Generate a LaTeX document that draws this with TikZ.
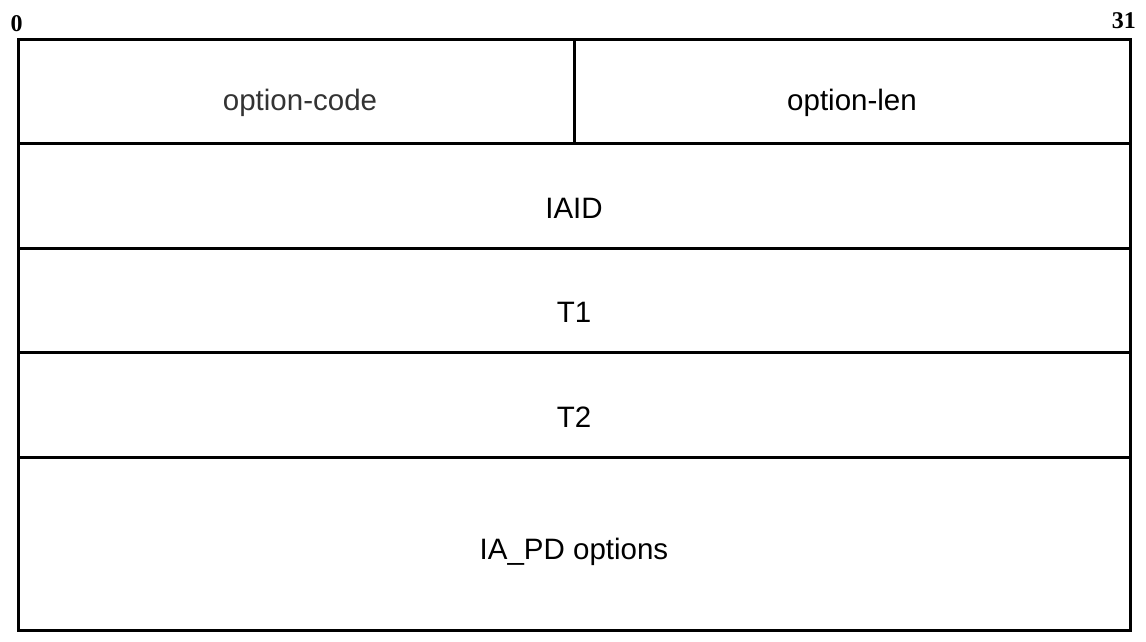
\documentclass[tikz,border=0pt]{standalone}
\usepackage{fontspec}
\setmainfont{Liberation Sans}
\newfontfamily\numfont{Liberation Serif}
\begin{document}
\begin{tikzpicture}[x=1pt,y=-1pt,
  fieldline/.style={line width=3pt},
  fieldtext/.style={font=\fontsize{29.5}{33}\selectfont, inner sep=0pt},
  bitlabel/.style={font=\numfont\bfseries\fontsize{24}{28}\selectfont, inner sep=0pt}]
\useasboundingbox (0,0) rectangle (1146,641);
\coordinate (tl) at (18,39);
\coordinate (br) at (1130,630.5);
\draw[fieldline] (tl) rectangle (br);
\coordinate (d1) at (18,143.5); \coordinate (d1r) at (1130,143.5);
\coordinate (d2) at (18,248.5); \coordinate (d2r) at (1130,248.5);
\coordinate (d3) at (18,352.5); \coordinate (d3r) at (1130,352.5);
\coordinate (d4) at (18,457.5); \coordinate (d4r) at (1130,457.5);
\coordinate (vt) at (574.5,39); \coordinate (vb) at (574.5,143.5);
\draw[fieldline] (d1) -- (d1r);
\draw[fieldline] (d2) -- (d2r);
\draw[fieldline] (d3) -- (d3r);
\draw[fieldline] (d4) -- (d4r);
\draw[fieldline] (vt) -- (vb);
\node[bitlabel] (b0) at (16.5,23.5) {0};
\node[bitlabel, anchor=east] (b31) at (1136,21) {31};
\node[fieldtext, text=black!80] (oc) at (300,103) {option-code};
\node[fieldtext] (ol) at (852,103) {option-len};
\node[fieldtext] (iaid) at (574,208) {IAID};
\node[fieldtext] (t1) at (574,312) {T1};
\node[fieldtext] (t2) at (574,417) {T2};
\node[fieldtext] (iapd) at (574,552) {IA\_PD options};
\end{tikzpicture}
\end{document}
